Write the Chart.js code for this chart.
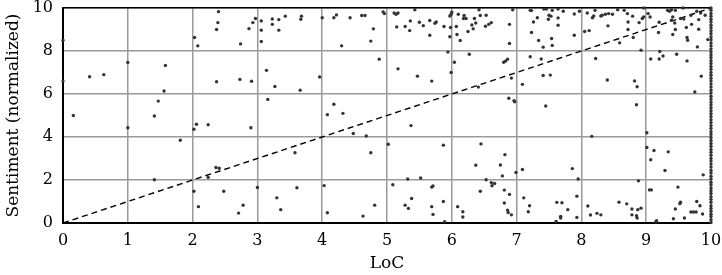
<!DOCTYPE html>
<html>
<head>
<meta charset="utf-8">
<script src="https://cdn.jsdelivr.net/npm/chart.js@4.4.1/dist/chart.umd.min.js"></script>
<style>
html, body { margin: 0; padding: 0; background: #fff; }
</style>
</head>
<body>
<canvas id="myChart" width="722" height="275"></canvas>
<script>
// lines of code (normalized) per file
var loc = [
    0, 0, 0.16, 0.41, 0.63, 1.0, 1.0, 1.58, 1.56, 1.47, 1.41, 1.41,
    2.40, 2.39, 2.37, 2.03, 2.08, 2.97, 2.93, 2.87, 2.74, 3.06, 3.06, 3.06, 3.23, 3.23, 3.14, 3.27, 3.16,
    2.37, 2.73, 2.91, 2.06, 2.02, 2.24, 2.90, 1.81, 2.36, 2.41, 2.24, 2.02, 2.48, 3.0, 3.30, 2.09, 2.78, 2.71,
    3.33, 3.43, 3.33, 3.68, 3.67, 3.66, 3.96, 4.0, 4.18, 4.22, 4.43, 4.61, 4.66, 4.94, 4.79, 4.75, 4.30, 4.88,
    4.18, 4.08, 4.32, 4.48, 4.68, 3.58, 4.75, 3.61, 4.03, 3.36, 4.08, 4.63, 4.81,
    4.96, 5.11, 5.14, 5.17, 5.43, 5.36, 5.15, 5.28, 5.35, 5.50, 5.56, 5.66, 5.74, 5.76, 5.66, 5.88, 5.97, 5.99,
    6.0, 5.98, 5.97, 6.07, 6.10, 6.19, 6.18, 6.22, 6.35, 6.42, 6.44, 6.53, 6.37, 6.31, 6.33, 6.25, 6.08, 6.13,
    6.52, 6.57, 6.61, 5.94, 6.04, 6.27, 5.17, 5.47, 5.69, 5.99, 6.41, 5.37, 5.02, 5.87, 6.45, 6.37,
    5.09, 5.32, 5.52, 5.69, 5.71, 6.53, 6.61, 6.62, 6.44, 5.38, 5.28, 5.33, 5.69, 5.87, 5.71, 5.89, 6.09, 6.17, 6.17,
    6.94, 6.89, 6.89, 7.21, 7.23, 7.42, 7.46, 7.55, 7.64, 7.72, 7.32, 7.26, 7.50, 7.53, 7.49, 7.64, 7.64, 7.89,
    7.97, 7.23, 7.34, 7.41, 7.54, 7.55, 7.89, 8.05, 8.12, 8.09, 8.17, 8.19, 8.21, 8.30,
    6.80, 6.83, 6.86, 6.92, 7.09, 7.21, 7.38, 7.41, 7.52, 8.22, 6.88, 6.96, 6.97, 7.45, 8.16,
    6.82, 6.75, 6.78, 6.99, 7.09, 7.86, 7.95, 6.66, 6.81, 6.89, 7.11, 6.81, 6.86, 6.87, 6.92, 7.20, 7.18,
    7.62, 7.70, 7.79, 7.93, 7.93, 7.68, 7.68, 7.61, 8.10, 8.14, 8.24, 8.30,
    8.32, 8.37, 8.42, 8.48, 8.56, 8.66, 8.71, 8.79, 8.72, 8.41, 8.72, 8.80, 8.59, 8.92, 8.89, 8.94, 8.96, 8.96,
    9.06, 9.03, 9.20, 9.19, 9.33, 9.36, 9.39, 9.45, 9.57, 9.41, 9.39, 9.53, 9.58, 9.69, 9.78, 9.84, 9.91,
    9.44, 9.45, 9.41, 9.62, 9.70, 9.81, 9.81, 9.63, 9.64, 9.79, 9.95, 9.21, 9.07, 9.20, 9.26, 9.47, 9.63,
    8.40, 8.82, 8.86, 9.85, 9.75, 8.85, 9.01, 9.01, 9.12, 9.34, 9.07, 9.29, 9.88, 8.88, 9.05, 9.08, 9.49,
    8.58, 8.70, 8.78, 8.87, 8.92, 8.78, 8.85, 8.86, 9.16, 9.15, 9.42, 9.45, 9.52, 9.53, 9.59, 9.69, 9.73,
    9.77, 9.78, 9.83, 9.87
];

var sentiment = [
    8.5, 6.6, 5.0, 6.8, 6.9, 7.47, 4.43, 7.33, 6.14, 5.67, 4.98, 2.01,
    9.83, 9.32, 9.0, 8.63, 8.24, 9.51, 9.32, 9.04, 8.33, 9.40, 8.97, 8.44, 9.49, 9.24, 7.10, 6.35, 5.75,
    6.57, 6.68, 6.59, 4.59, 4.36, 4.57, 4.43, 3.85, 2.58, 2.55, 2.12, 1.48, 1.48, 1.65, 1.17, 0.76, 0.83, 0.46,
    9.46, 9.62, 8.97, 9.62, 9.48, 6.18, 6.79, 9.55, 9.55, 9.68, 9.55, 9.65, 9.65, 9.82, 9.03, 8.46, 8.24, 7.62,
    5.52, 5.04, 5.10, 4.16, 4.05, 3.27, 3.27, 1.64, 1.74, 0.62, 0.48, 0.32, 0.83,
    9.74, 9.77, 9.71, 9.77, 9.92, 9.40, 9.12, 9.14, 8.95, 9.34, 9.18, 9.42, 9.29, 9.35, 8.73, 9.14, 9.63, 9.71,
    9.80, 9.09, 8.66, 9.14, 9.71, 9.65, 9.51, 9.51, 9.51, 9.92, 9.65, 9.66, 9.30, 9.21, 9.03, 8.91, 8.77, 8.49,
    9.15, 9.24, 9.32, 7.95, 7.48, 7.85, 7.17, 6.83, 6.60, 7.0, 6.32, 4.53, 3.66, 3.62, 3.68, 2.69,
    1.78, 2.05, 2.09, 1.67, 1.72, 2.01, 1.88, 1.73, 1.48, 1.14, 0.83, 0.68, 0.76, 1.0, 0.40, 0.06, 0.76, 0.52, 0.28,
    9.92, 9.24, 8.35, 9.89, 9.88, 9.95, 9.95, 9.89, 9.95, 9.85, 9.55, 9.35, 9.66, 9.62, 9.48, 9.54, 9.20, 9.72,
    9.85, 8.86, 8.49, 8.18, 8.58, 8.26, 8.73, 8.91, 8.95, 9.77, 9.55, 9.63, 9.89, 9.63,
    7.48, 7.53, 7.62, 6.74, 6.45, 7.73, 7.63, 6.86, 6.88, 7.65, 5.80, 5.69, 5.64, 5.44, 4.03,
    3.18, 2.70, 2.19, 2.35, 2.49, 2.53, 2.05, 1.84, 1.53, 1.33, 1.17, 0.93, 0.60, 0.49, 0.38, 0.80, 0.52,
    0.96, 0.94, 0.62, 1.25, 0.26, 0.31, 0.23, 0.07, 0.79, 0.37, 0.45, 0.38,
    9.66, 9.71, 9.74, 9.71, 9.92, 9.89, 9.74, 9.62, 9.35, 9.17, 9.0, 8.63, 8.38, 8.04, 9.32, 9.51, 9.58, 10.0,
    9.58, 9.74, 9.34, 8.86, 9.89, 9.85, 9.92, 9.89, 10.0, 9.58, 9.43, 9.51, 9.49, 9.66, 9.85, 9.77, 9.66,
    9.30, 9.0, 8.77, 9.09, 9.24, 9.46, 9.01, 8.63, 8.50, 8.19, 8.53, 7.98, 7.63, 7.63, 7.77, 7.85, 7.54,
    6.65, 6.61, 6.34, 6.83, 6.09, 5.50, 4.20, 3.51, 3.37, 3.31, 2.94, 2.44, 2.24, 1.96, 1.54, 1.54, 1.67,
    0.97, 0.89, 0.65, 0.62, 0.69, 0.38, 0.34, 0.23, 0.11, 0.06, 0.20, 0.65, 0.90, 0.97, 0.23, 0.51, 0.51,
    0.51, 1.0, 0.80, 0.42
];

// files that sit at LoC = 10 (the solid column on the right edge)
var edgeSentiment = [
    0.02, 0.15, 0.3, 0.41, 0.55, 0.68, 0.8, 0.97, 1.1, 1.22, 1.37, 1.5, 1.63, 1.78, 1.9, 2.05, 2.18,
    2.33, 2.45, 2.6, 2.74, 2.88, 3.0, 3.15, 3.29, 3.42, 3.57, 3.7, 3.84, 3.98, 4.12, 4.25, 4.4, 4.53,
    4.67, 4.8, 4.95, 5.08, 5.22, 5.36, 5.5, 5.63, 5.77, 5.9, 6.05, 6.18, 6.32, 6.46, 6.6, 6.73, 6.87,
    7.0, 7.15, 7.28, 7.42, 7.55, 7.7, 7.83, 7.97, 8.1, 8.25, 8.38, 8.52, 8.65, 8.8, 8.93, 9.07, 9.2,
    9.35, 9.48, 9.62, 9.75, 9.9, 10.0
];

var diagonal = [0, 10];
var xTicks = [0, 1, 2, 3, 4, 5, 6, 7, 8, 9, 10];
var yTicks = [0, 2, 4, 6, 8, 10];

var points = loc.map(function (x, i) { return { x: x, y: sentiment[i] }; });
edgeSentiment.forEach(function (y) { points.push({ x: 10, y: y }); });

var xFirst = xTicks[0], xLast = xTicks[xTicks.length - 1];
var yFirst = yTicks[0], yLast = yTicks[yTicks.length - 1];

var tickFont = { family: "'DejaVu Serif', serif", size: 16 };
var titleFont = { family: "'DejaVu Serif', serif", size: 17 };
var gridColor = '#9a9a9a';

var ctx = document.getElementById('myChart').getContext('2d');

var chart = new Chart(ctx, {
    type: 'scatter',
    data: {
        datasets: [{
            label: 'files',
            data: points,
            backgroundColor: '#333',
            borderWidth: 0,
            pointRadius: 1.7,
            clip: false
        }, {
            type: 'line',
            label: 'y = x',
            data: diagonal.map(function (v) { return { x: v, y: v }; }),
            borderColor: '#000',
            borderWidth: 1.4,
            borderDash: [6, 4],
            pointRadius: 0,
            fill: false
        }]
    },
    options: {
        responsive: false,
        animation: false,
        devicePixelRatio: 1,
        layout: { padding: { top: 8, right: 11, left: 0, bottom: 0 } },
        plugins: {
            legend: { display: false },
            tooltip: { enabled: false }
        },
        scales: {
            x: {
                type: 'linear',
                position: 'bottom',
                min: xFirst,
                max: xLast,
                ticks: { stepSize: 1, padding: 8, color: '#000', font: tickFont, maxRotation: 0 },
                grid: { display: true, color: gridColor, lineWidth: 1.5, drawTicks: false },
                border: { color: '#000', width: 2 },
                title: { display: true, text: 'LoC', color: '#000', font: titleFont, padding: { top: 0, bottom: 1 } },
                afterFit: function (s) { s.height = 52; s.paddingLeft = 0; s.paddingRight = 0; }
            },
            y: {
                type: 'linear',
                position: 'left',
                min: yFirst,
                max: yLast,
                ticks: { stepSize: 2, padding: 10, color: '#000', font: tickFont },
                grid: { display: true, color: gridColor, lineWidth: 1.5, drawTicks: false },
                border: { color: '#000', width: 2 },
                title: { display: true, text: 'Sentiment (normalized)', color: '#000', font: titleFont, padding: { top: 3, bottom: 0 } },
                afterFit: function (s) { s.width = 63; s.paddingTop = 0; s.paddingBottom = 0; }
            },
            x2: {
                type: 'linear',
                position: 'top',
                min: xFirst,
                max: xLast,
                ticks: { display: false },
                grid: { display: false, drawTicks: false },
                border: { color: '#000', width: 1.5 },
                afterFit: function (s) { s.height = 0; s.paddingLeft = 0; s.paddingRight = 0; }
            }
        }
    }
});
</script>
</body>
</html>
